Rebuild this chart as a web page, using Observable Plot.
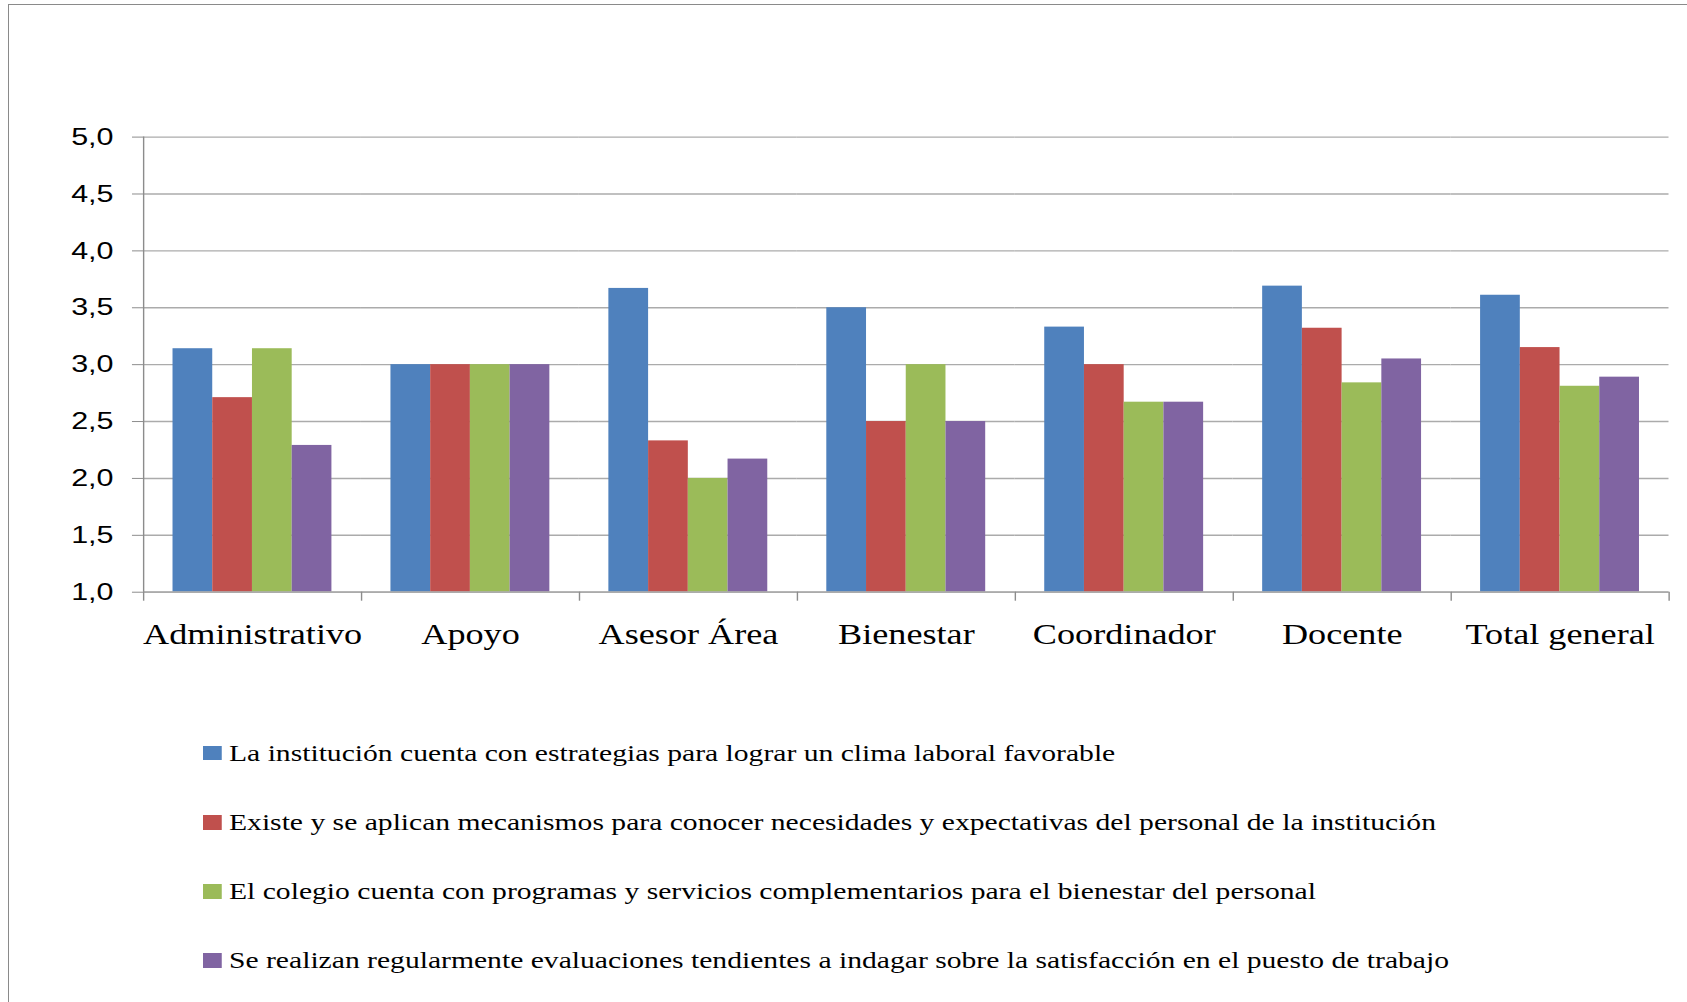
<!DOCTYPE html>
<html>
<head>
<meta charset="utf-8">
<script src="https://cdn.jsdelivr.net/npm/d3@7"></script>
<script src="https://cdn.jsdelivr.net/npm/@observablehq/plot@0.6"></script>
<style>
  body { margin: 0; background: #fff; }
  #wrap { position: relative; width: 1687px; height: 1002px; overflow: hidden; background: #fff; }
  #border { position: absolute; left: 8px; top: 4px; width: 1800px; height: 1100px;
            border-left: 1.5px solid #8a8a8a; border-top: 1.5px solid #8a8a8a; }
  #chart { position: absolute; left: 0; top: 0; }
  #legend { position: absolute; left: 203px; top: 718.5px; transform: scaleX(1.25); transform-origin: 0 0;
            font-family: "Liberation Serif", "Times New Roman", serif; font-size: 23.7px; color: #000; }
  .item { display: flex; align-items: center; height: 69.2px; white-space: nowrap; }
  .sw { width: 15px; height: 14.7px; margin-right: 5.8px; flex: none; }
</style>
</head>
<body>
<div id="wrap">
  <div id="border"></div>
  <div id="chart"></div>
  <div id="legend"></div>
</div>
<script>
// Categories (staff roles) on the x axis
const categories = ["Administrativo", "Apoyo", "Asesor Área", "Bienestar", "Coordinador", "Docente", "Total general"];

// Survey statements (one series each)
const seriesNames = [
  "La institución cuenta con estrategias para lograr un clima laboral favorable",
  "Existe y se aplican mecanismos para conocer necesidades y expectativas del personal de la institución",
  "El colegio cuenta con programas y servicios complementarios para el bienestar del personal",
  "Se realizan regularmente evaluaciones tendientes a indagar sobre la satisfacción en el puesto de trabajo"
];

// Average score per category, one array per statement
const estrategias   = [3.14, 3.00, 3.67, 3.50, 3.33, 3.69, 3.61];
const mecanismos    = [2.71, 3.00, 2.33, 2.50, 3.00, 3.32, 3.15];
const programas     = [3.14, 3.00, 2.00, 3.00, 2.67, 2.84, 2.81];
const evaluaciones  = [2.29, 3.00, 2.17, 2.50, 2.67, 3.05, 2.89];
const seriesValues = [estrategias, mecanismos, programas, evaluaciones];

const seriesColors = ["#4f81bd", "#c0504d", "#9bbb59", "#8064a2"];
const yTicks = [1, 1.5, 2, 2.5, 3, 3.5, 4, 4.5, 5];

// Long-format table for the grouped bars
const rows = categories.flatMap((cat, i) =>
  seriesNames.map((serie, j) => ({cat, serie, value: seriesValues[j][i]}))
);

// The chart is laid out in a narrower coordinate space and stretched horizontally
const stretch = 1.27;
const W = 1687, H = 670;
const W0 = W / stretch;
const marginLeft = 143 / stretch, marginRight = (W - 1668.5) / stretch;
const marginTop = 136.6, baseY = 591.7;
const step = (W0 - marginLeft - marginRight) / categories.length;
const gridColor = "#ababab";
const axisColor = "#8c8c8c";
const fmt = d => d.toFixed(1).replace(".", ",");

const plot = Plot.plot({
  width: W0,
  height: H,
  marginLeft,
  marginRight,
  marginTop,
  marginBottom: H - baseY,
  fx: {domain: categories, padding: 0, round: false, label: null},
  x: {domain: seriesNames, paddingInner: 0, paddingOuter: 0.743, round: false, axis: null},
  y: {domain: [1, 5], label: null},
  color: {domain: seriesNames, range: seriesColors},
  marks: [
    Plot.ruleY(yTicks, {stroke: gridColor, strokeWidth: 1.4}),
    Plot.barY(rows, {fx: "cat", x: "serie", y1: 1, y2: "value", fill: "serie"}),
    Plot.ruleY([1], {stroke: gridColor, strokeWidth: 1.8}),
    // category boundary tick marks below the baseline
    Plot.ruleX(categories, {fx: d => d, x: null, y1: 1, y2: 1, insetBottom: -9, dx: -step / 2, stroke: axisColor, strokeWidth: 1.1}),
    Plot.ruleX(categories.slice(-1), {fx: d => d, x: null, y1: 1, y2: 1, insetBottom: -9, dx: step / 2, stroke: axisColor, strokeWidth: 1.1}),
    // value axis line
    Plot.ruleX(categories.slice(0, 1), {fx: d => d, x: null, y1: 1, y2: 5, dx: -step / 2, stroke: axisColor, strokeWidth: 1.1}),
    Plot.axisY({ticks: yTicks, tickFormat: fmt, tickSize: 8.7, tickPadding: 15, stroke: axisColor,
                fontSize: 24, fontFamily: "Liberation Sans", fill: "#000", label: null}),
    Plot.axisFx({anchor: "bottom", tickSize: 0, tickPadding: 32, fontSize: 28.5,
                 fontFamily: "Liberation Serif", fill: "#000", label: null})
  ]
});

plot.setAttribute("width", W);
plot.setAttribute("height", H);
plot.setAttribute("preserveAspectRatio", "none");
plot.style.width = W + "px";
plot.style.height = H + "px";
plot.style.maxWidth = "none";
plot.style.background = "transparent";
document.getElementById("chart").appendChild(plot);

// Legend: one statement per row
const legend = d3.select("#legend");
seriesNames.forEach((name, j) => {
  const item = legend.append("div").attr("class", "item");
  item.append("div").attr("class", "sw").style("background", seriesColors[j]);
  item.append("span").text(name);
});
</script>
</body>
</html>
